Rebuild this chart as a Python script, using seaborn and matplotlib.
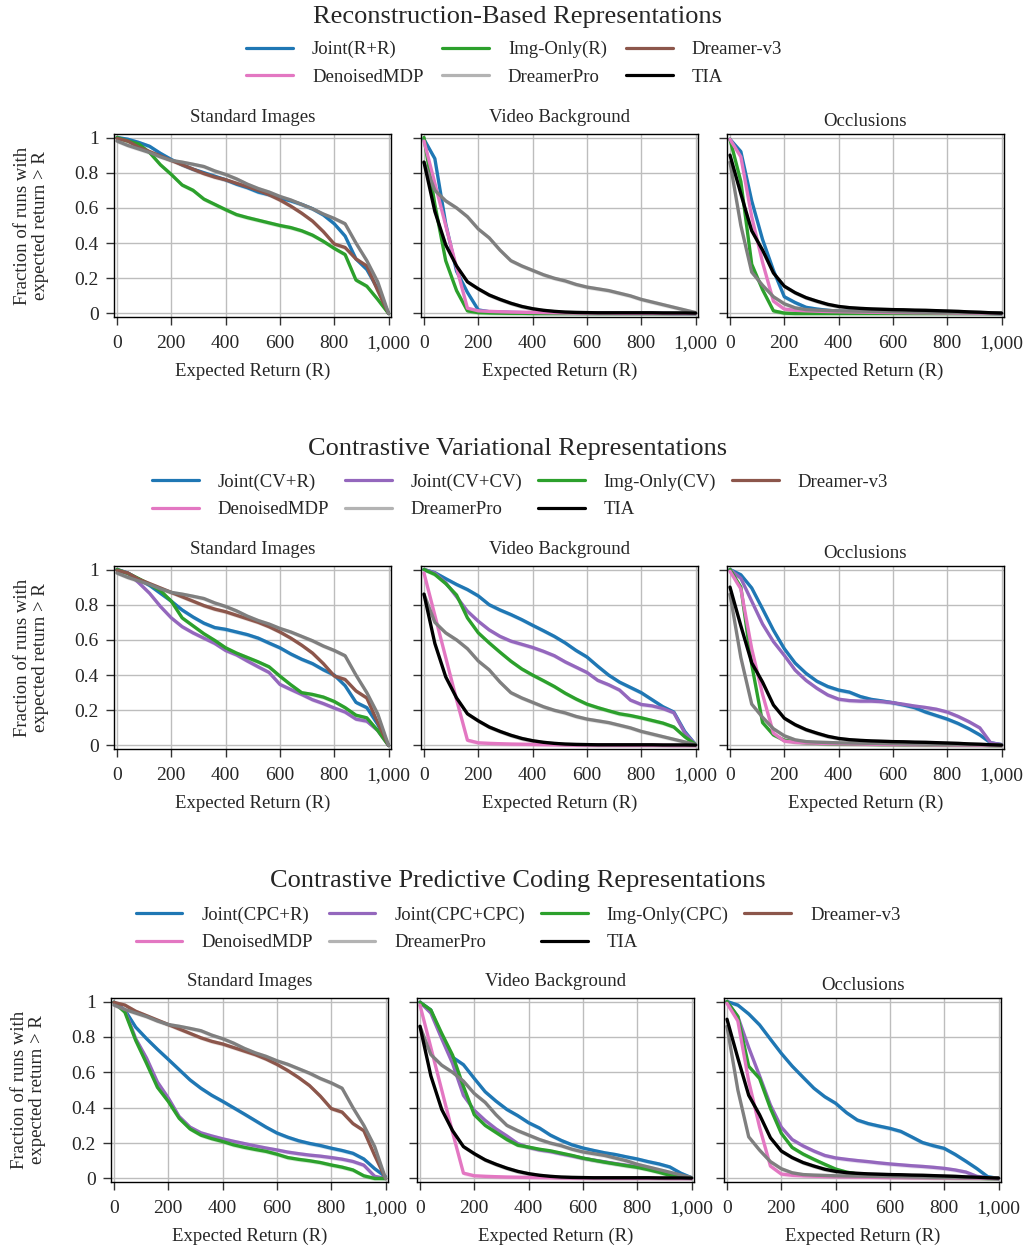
import numpy as np
import pandas as pd
import matplotlib
matplotlib.use("Agg")
import matplotlib.pyplot as plt
from matplotlib.lines import Line2D
from matplotlib.ticker import FuncFormatter
import seaborn as sns

# ---------------------------------------------------------------- data
returns = [0, 40, 80, 120, 160, 200, 240, 280, 320, 360, 400, 440, 480,
           520, 560, 600, 640, 680, 720, 760, 800, 840, 880, 920, 960, 1000]

panels = ["Standard Images", "Video Background", "Occlusions"]

# Baselines (shared by all three groups)
dreamerpro_std = [0.98, 0.955, 0.935, 0.915, 0.89, 0.87, 0.86, 0.848, 0.835, 0.81, 0.79, 0.765, 0.735,
                  0.71, 0.69, 0.665, 0.645, 0.62, 0.595, 0.565, 0.54, 0.51, 0.40, 0.30, 0.18, 0.0]
dreamerv3_std = [0.995, 0.98, 0.945, 0.92, 0.895, 0.87, 0.845, 0.82, 0.795, 0.775, 0.76, 0.74, 0.72,
                 0.70, 0.675, 0.645, 0.61, 0.57, 0.525, 0.465, 0.395, 0.375, 0.31, 0.27, 0.13, 0.0]
dreamerpro_vid = [0.86, 0.70, 0.64, 0.60, 0.55, 0.48, 0.43, 0.36, 0.30, 0.27, 0.245, 0.22, 0.20,
                  0.185, 0.165, 0.15, 0.14, 0.13, 0.115, 0.10, 0.08, 0.065, 0.05, 0.035, 0.02, 0.005]
tia_vid = [0.86, 0.58, 0.39, 0.27, 0.18, 0.14, 0.105, 0.08, 0.058, 0.04, 0.027, 0.018, 0.012,
           0.008, 0.006, 0.005, 0.004, 0.004, 0.004, 0.004, 0.004, 0.004, 0.003, 0.003, 0.003, 0.002]
denoised_vid = [0.98, 0.74, 0.50, 0.26, 0.03, 0.015, 0.012, 0.01, 0.008, 0.007, 0.006, 0.005, 0.004,
                0.003, 0.002, 0.002, 0.002, 0.002, 0.001, 0.001, 0.001, 0.001, 0.001, 0.0, 0.0, 0.0]
dreamerpro_occ = [0.86, 0.50, 0.235, 0.16, 0.095, 0.055, 0.032, 0.022, 0.019, 0.017, 0.015, 0.014, 0.013,
                  0.012, 0.011, 0.01, 0.009, 0.008, 0.007, 0.006, 0.006, 0.005, 0.005, 0.004, 0.004, 0.003]
tia_occ = [0.90, 0.68, 0.47, 0.36, 0.23, 0.155, 0.118, 0.09, 0.07, 0.052, 0.04, 0.033, 0.029,
           0.026, 0.024, 0.022, 0.021, 0.019, 0.018, 0.016, 0.014, 0.012, 0.009, 0.007, 0.004, 0.002]
denoised_occ = [0.99, 0.89, 0.55, 0.29, 0.07, 0.025, 0.018, 0.015, 0.013, 0.011, 0.01, 0.009, 0.008,
                0.007, 0.006, 0.005, 0.005, 0.004, 0.004, 0.003, 0.003, 0.002, 0.002, 0.001, 0.001, 0.0]

# Reconstruction-based
joint_rr_std = [1.0, 0.99, 0.972, 0.95, 0.91, 0.875, 0.845, 0.82, 0.80, 0.78, 0.76, 0.735, 0.715,
                0.69, 0.675, 0.655, 0.64, 0.62, 0.595, 0.56, 0.51, 0.44, 0.31, 0.25, 0.14, 0.0]
joint_rr_vid = [0.99, 0.88, 0.51, 0.24, 0.12, 0.02, 0.01, 0.008, 0.006, 0.005, 0.004, 0.004, 0.003,
                0.003, 0.002, 0.002, 0.002, 0.002, 0.001, 0.001, 0.001, 0.001, 0.001, 0.0, 0.0, 0.0]
joint_rr_occ = [0.99, 0.92, 0.64, 0.42, 0.245, 0.095, 0.062, 0.035, 0.025, 0.018, 0.013, 0.011, 0.01,
                0.009, 0.008, 0.007, 0.006, 0.005, 0.005, 0.004, 0.004, 0.003, 0.003, 0.002, 0.001, 0.0]
img_r_std = [1.0, 0.98, 0.963, 0.915, 0.845, 0.79, 0.73, 0.70, 0.65, 0.62, 0.59, 0.562, 0.545,
             0.53, 0.515, 0.50, 0.488, 0.47, 0.445, 0.41, 0.37, 0.335, 0.19, 0.155, 0.08, 0.0]
img_r_vid = [1.0, 0.62, 0.30, 0.13, 0.015, 0.005, 0.003, 0.002, 0.001, 0.001, 0.0, 0.0, 0.0,
             0.0, 0.0, 0.0, 0.0, 0.0, 0.0, 0.0, 0.0, 0.0, 0.0, 0.0, 0.0, 0.0]
img_r_occ = [0.99, 0.75, 0.28, 0.135, 0.015, 0.002, 0.0, 0.0, 0.0, 0.0, 0.0, 0.0, 0.0,
             0.0, 0.0, 0.0, 0.0, 0.0, 0.0, 0.0, 0.0, 0.0, 0.0, 0.0, 0.0, 0.0]

# Contrastive variational
joint_cvr_std = [1.0, 0.98, 0.945, 0.91, 0.865, 0.82, 0.77, 0.73, 0.695, 0.67, 0.66, 0.645, 0.63,
                 0.61, 0.582, 0.555, 0.52, 0.49, 0.465, 0.43, 0.40, 0.34, 0.245, 0.215, 0.12, 0.0]
joint_cvr_vid = [1.0, 0.982, 0.948, 0.915, 0.886, 0.85, 0.80, 0.77, 0.744, 0.715, 0.683, 0.652, 0.62,
                 0.583, 0.54, 0.503, 0.45, 0.40, 0.36, 0.33, 0.30, 0.26, 0.22, 0.19, 0.08, 0.005]
joint_cvr_occ = [1.0, 0.97, 0.895, 0.776, 0.655, 0.55, 0.468, 0.41, 0.365, 0.335, 0.315, 0.303, 0.278,
                 0.262, 0.253, 0.243, 0.23, 0.215, 0.19, 0.17, 0.15, 0.125, 0.095, 0.06, 0.015, 0.005]
joint_cvcv_std = [1.0, 0.98, 0.925, 0.865, 0.79, 0.725, 0.675, 0.64, 0.61, 0.58, 0.54, 0.515, 0.48,
                  0.447, 0.415, 0.347, 0.318, 0.29, 0.26, 0.238, 0.213, 0.19, 0.15, 0.138, 0.085, 0.0]
joint_cvcv_vid = [1.0, 0.98, 0.925, 0.845, 0.763, 0.706, 0.657, 0.62, 0.593, 0.575, 0.557, 0.535, 0.51,
                  0.475, 0.445, 0.415, 0.37, 0.345, 0.315, 0.258, 0.233, 0.225, 0.21, 0.186, 0.072, 0.005]
joint_cvcv_occ = [1.0, 0.95, 0.82, 0.69, 0.59, 0.512, 0.428, 0.37, 0.325, 0.287, 0.263, 0.255, 0.252,
                  0.252, 0.249, 0.243, 0.234, 0.224, 0.216, 0.206, 0.19, 0.165, 0.135, 0.10, 0.015, 0.005]
img_cv_std = [1.0, 0.978, 0.948, 0.915, 0.88, 0.82, 0.725, 0.68, 0.635, 0.597, 0.555, 0.525, 0.50,
              0.475, 0.447, 0.394, 0.345, 0.30, 0.29, 0.275, 0.25, 0.215, 0.172, 0.157, 0.085, 0.0]
img_cv_vid = [1.0, 0.972, 0.92, 0.855, 0.725, 0.64, 0.583, 0.53, 0.479, 0.435, 0.40, 0.368, 0.335,
              0.297, 0.264, 0.235, 0.215, 0.197, 0.18, 0.17, 0.157, 0.142, 0.127, 0.105, 0.05, 0.005]
img_cv_occ = [1.0, 0.90, 0.46, 0.13, 0.06, 0.03, 0.02, 0.015, 0.012, 0.01, 0.009, 0.008, 0.007,
              0.006, 0.005, 0.005, 0.004, 0.004, 0.003, 0.003, 0.002, 0.002, 0.001, 0.001, 0.0, 0.0]

# Contrastive predictive coding
joint_cpcr_std = [0.996, 0.952, 0.855, 0.79, 0.73, 0.673, 0.615, 0.557, 0.51, 0.47, 0.436, 0.40, 0.364,
                  0.327, 0.29, 0.257, 0.233, 0.213, 0.198, 0.186, 0.171, 0.158, 0.142, 0.11, 0.055, 0.01]
joint_cpcr_vid = [0.996, 0.952, 0.80, 0.685, 0.643, 0.565, 0.49, 0.437, 0.39, 0.355, 0.315, 0.285, 0.245,
                  0.215, 0.19, 0.172, 0.158, 0.145, 0.135, 0.122, 0.11, 0.095, 0.082, 0.065, 0.03, 0.004]
joint_cpcr_occ = [1.0, 0.98, 0.93, 0.868, 0.787, 0.707, 0.635, 0.572, 0.51, 0.462, 0.425, 0.372, 0.33,
                  0.31, 0.296, 0.283, 0.266, 0.235, 0.203, 0.185, 0.17, 0.136, 0.097, 0.056, 0.01, 0.0]
joint_cpccpc_std = [0.996, 0.95, 0.79, 0.68, 0.545, 0.455, 0.35, 0.29, 0.258, 0.24, 0.224, 0.21, 0.197,
                    0.184, 0.172, 0.161, 0.149, 0.14, 0.132, 0.126, 0.118, 0.109, 0.096, 0.075, 0.012, 0.0]
joint_cpccpc_vid = [0.996, 0.935, 0.79, 0.65, 0.47, 0.385, 0.328, 0.28, 0.24, 0.197, 0.175, 0.161, 0.152,
                    0.139, 0.127, 0.114, 0.104, 0.094, 0.084, 0.075, 0.066, 0.055, 0.04, 0.025, 0.012, 0.004]
joint_cpccpc_occ = [1.0, 0.915, 0.74, 0.58, 0.415, 0.29, 0.22, 0.184, 0.155, 0.13, 0.116, 0.108, 0.101,
                    0.095, 0.088, 0.082, 0.077, 0.072, 0.068, 0.063, 0.057, 0.048, 0.036, 0.012, 0.004, 0.0]
img_cpc_std = [0.996, 0.94, 0.78, 0.65, 0.515, 0.435, 0.34, 0.28, 0.245, 0.225, 0.209, 0.19, 0.176,
               0.164, 0.153, 0.137, 0.118, 0.108, 0.10, 0.09, 0.076, 0.064, 0.048, 0.015, 0.0, 0.0]
img_cpc_vid = [0.996, 0.952, 0.82, 0.697, 0.52, 0.36, 0.30, 0.26, 0.22, 0.188, 0.177, 0.165, 0.156,
               0.143, 0.13, 0.115, 0.103, 0.092, 0.082, 0.072, 0.063, 0.05, 0.035, 0.018, 0.01, 0.004]
img_cpc_occ = [1.0, 0.915, 0.634, 0.565, 0.396, 0.255, 0.175, 0.138, 0.108, 0.08, 0.053, 0.036, 0.025,
               0.018, 0.014, 0.011, 0.009, 0.007, 0.006, 0.005, 0.004, 0.003, 0.002, 0.001, 0.0, 0.0]

# ---------------------------------------------------------------- style
colors = {
    "joint_other": "#1f77b4",
    "joint_same": "#9467bd",
    "img": "#2ca02c",
    "Dreamer-v3": "#8c564b",
    "DenoisedMDP": "#e377c2",
    "DreamerPro": "#7f7f7f",
    "TIA": "#000000",
}

sns.set_theme(style="whitegrid")
plt.rcParams["font.family"] = ["Liberation Serif", "DejaVu Serif"]

fig = plt.figure(figsize=(10.27, 12.45), dpi=100)
W, H = 1027.0, 1245.0


def baselines(panel):
    if panel == "Standard Images":
        return [("Dreamer-v3", dreamerv3_std), ("DreamerPro", dreamerpro_std)]
    if panel == "Video Background":
        return [("DenoisedMDP", denoised_vid), ("DreamerPro", dreamerpro_vid), ("TIA", tia_vid)]
    return [("DenoisedMDP", denoised_occ), ("DreamerPro", dreamerpro_occ), ("TIA", tia_occ)]


sections = [
    dict(title="Reconstruction-Based Representations",
         methods=[("Joint(R+R)", "joint_other", [joint_rr_std, joint_rr_vid, joint_rr_occ]),
                  ("Img-Only(R)", "img", [img_r_std, img_r_vid, img_r_occ])],
         legend_order=["Joint(R+R)", "DenoisedMDP", "Img-Only(R)", "DreamerPro", "Dreamer-v3", "TIA"],
         ncol=3, colspace=1.0, title_y=17, legend_xy=(514, 63.5), top=134, bottom=317,
         lefts=[114, 421, 727]),
    dict(title="Contrastive Variational Representations",
         methods=[("Joint(CV+R)", "joint_other", [joint_cvr_std, joint_cvr_vid, joint_cvr_occ]),
                  ("Joint(CV+CV)", "joint_same", [joint_cvcv_std, joint_cvcv_vid, joint_cvcv_occ]),
                  ("Img-Only(CV)", "img", [img_cv_std, img_cv_vid, img_cv_occ])],
         legend_order=["Joint(CV+R)", "DenoisedMDP", "Joint(CV+CV)", "DreamerPro",
                       "Img-Only(CV)", "TIA", "Dreamer-v3"],
         ncol=4, colspace=0.85, title_y=449, legend_xy=(520, 496), top=566, bottom=749,
         lefts=[114, 421, 727]),
    dict(title="Contrastive Predictive Coding Representations",
         methods=[("Joint(CPC+R)", "joint_other", [joint_cpcr_std, joint_cpcr_vid, joint_cpcr_occ]),
                  ("Joint(CPC+CPC)", "joint_same", [joint_cpccpc_std, joint_cpccpc_vid, joint_cpccpc_occ]),
                  ("Img-Only(CPC)", "img", [img_cpc_std, img_cpc_vid, img_cpc_occ])],
         legend_order=["Joint(CPC+R)", "DenoisedMDP", "Joint(CPC+CPC)", "DreamerPro",
                       "Img-Only(CPC)", "TIA", "Dreamer-v3"],
         ncol=4, colspace=0.85, title_y=881, legend_xy=(518, 929), top=998, bottom=1182,
         lefts=[111, 417, 724]),
]

panel_w = 277
band = 0.012
title_pads = [9, 9, 6]

for sec in sections:
    fig.text(0.504, 1 - sec["title_y"] / H, sec["title"], ha="center", va="center", fontsize=19)

    color_of = {}
    for name, ckey, _ in sec["methods"]:
        color_of[name] = colors[ckey]
    for name in ["Dreamer-v3", "DenoisedMDP", "DreamerPro", "TIA"]:
        color_of[name] = colors[name]

    for j, panel in enumerate(panels):
        left = sec["lefts"][j] / W
        bottom = 1 - sec["bottom"] / H
        height = (sec["bottom"] - sec["top"]) / H
        ax = fig.add_axes([left, bottom, panel_w / W, height])

        series = [(name, vals[j]) for name, _, vals in sec["methods"]] + baselines(panel)
        frames = [pd.DataFrame({"R": returns, "frac": v, "method": n}) for n, v in series]
        df = pd.concat(frames, ignore_index=True)
        order = [n for n, _ in series]

        # light confidence bands beneath the curves
        for n, v in series:
            v = np.asarray(v)
            ax.fill_between(returns, v - band, v + band, color=color_of[n],
                            alpha=0.22, lw=0, zorder=1.5)

        sns.lineplot(data=df, x="R", y="frac", hue="method", hue_order=order,
                     palette=color_of, errorbar=None, legend=False, sort=False,
                     lw=2.4, ax=ax, zorder=2)

        ax.set_xlim(-11, 1009)
        ax.set_ylim(-0.02, 1.02)
        ax.set_xticks([0, 200, 400, 600, 800, 1000])
        ax.set_yticks([0, 0.2, 0.4, 0.6, 0.8, 1.0])
        ax.xaxis.set_major_formatter(FuncFormatter(lambda v, p: f"{int(round(v)):,}"))
        ax.yaxis.set_major_formatter(FuncFormatter(lambda v, p: f"{v:g}"))
        ax.grid(True, color="#bdbdbd", lw=1.0)
        ax.set_facecolor("white")
        for s in ax.spines.values():
            s.set_color("black")
            s.set_linewidth(1.0)
        ax.tick_params(axis="both", which="major", direction="out", length=6, width=1.0,
                       color="#333333", labelsize=14, left=True, bottom=True)
        ax.tick_params(axis="x", pad=7)
        ax.tick_params(axis="y", pad=5)
        ax.set_xlabel("Expected Return (R)", fontsize=13.5)
        ax.xaxis.set_label_coords(0.5, -0.25)
        ax.xaxis.label.set_va("top")
        ax.set_title(panel, fontsize=13.5, pad=title_pads[j])
        if j == 0:
            ax.set_ylabel("Fraction of runs with\nexpected return > R", fontsize=13.5,
                          linespacing=1.1)
            ax.yaxis.set_label_coords(-0.235, 0.5)
        else:
            ax.set_ylabel("")
            ax.set_yticklabels([])

    handles = []
    for name in sec["legend_order"]:
        c = color_of[name]
        if name == "DreamerPro":
            c = "#b3b3b3"
        handles.append(Line2D([0], [0], color=c, lw=2.3))
    fig.legend(handles, sec["legend_order"], ncol=sec["ncol"], loc="center",
               bbox_to_anchor=(sec["legend_xy"][0] / W, 1 - sec["legend_xy"][1] / H),
               frameon=False, fontsize=13.5, handlelength=2.5, handletextpad=1.0,
               columnspacing=sec["colspace"], labelspacing=0.55)

fig.savefig("out.png", dpi=100)
